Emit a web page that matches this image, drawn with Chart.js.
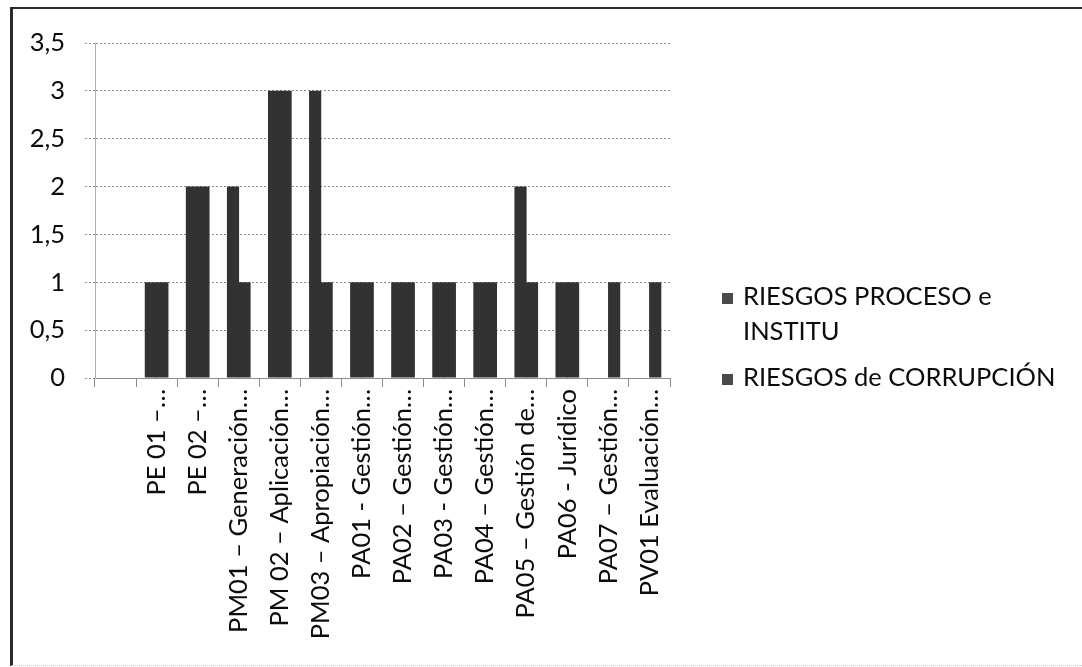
<!DOCTYPE html>
<html>
<head>
<meta charset="utf-8">
<title>Riesgos por proceso</title>
<script src="https://cdn.jsdelivr.net/npm/chart.js@4.4.1/dist/chart.umd.min.js"></script>
<style>
  html, body { margin: 0; padding: 0; background: #ffffff; }
  #wrap { position: relative; width: 1082px; height: 667px; overflow: hidden; }
  #frame {
    position: absolute; left: 10px; top: 7px; right: -4px; bottom: 1px;
    border-left: 3px solid #2b2b2b; border-top: 2px solid #2b2b2b;
    border-bottom: 1px dotted #c4c4c4; pointer-events: none;
  }
  canvas { position: absolute; left: 0; top: 0; }
</style>
</head>
<body>
<div id="wrap">
  <canvas id="chart" width="1082" height="667"></canvas>
  <div id="frame"></div>
</div>
<script>
// Process codes (first slot is an empty category, as in the source sheet)
const categories = [
  '',
  'PE 01 –…',
  'PE 02 –…',
  'PM01 – Generación…',
  'PM 02 – Aplicación…',
  'PM03 – Apropiación…',
  'PA01 - Gestión…',
  'PA02 – Gestión…',
  'PA03 - Gestión…',
  'PA04 – Gestión…',
  'PA05 – Gestión de…',
  'PA06 - Jurídico',
  'PA07 – Gestión…',
  'PV01 Evaluación…'
];

// Number of risks per process
const riesgosProceso    = [null, 1, 2, 2, 3, 3, 1, 1, 1, 1, 2, 1, 0, 0];
const riesgosCorrupcion = [null, 1, 2, 1, 3, 1, 1, 1, 1, 1, 1, 1, 1, 1];

// Series names (as they appear in the legend, line by line)
const seriesProcesoLines    = ['RIESGOS PROCESO e', 'INSTITU'];
const seriesCorrupcionLines = ['RIESGOS de CORRUPCIÓN'];

// Value axis tick labels (decimal comma)
const yTickLabels = ['0', '0,5', '1', '1,5', '2', '2,5', '3', '3,5'];

const FONT_FAMILY = 'Lato, "Open Sans", sans-serif';
const FONT = { family: FONT_FAMILY, size: 25.5 };
const TEXT = '#0c0c0c';
const GRID = '#8d8d8d';
const BAR  = '#323232';
const KEY  = '#4a4a4a';

// Legend drawn to the right of the plot: a square key and wrapped series name
const sideLegend = {
  id: 'sideLegend',
  afterDraw(chart) {
    const c = chart.ctx;
    const area = chart.chartArea;
    const x0 = area.right + 52;          // key square left edge
    const lineH = 35;                    // wrapped-line spacing
    const itemGap = 46;                  // from last line of one item to next item
    let y = 297;                         // first line centre
    c.save();
    c.font = `${FONT.size}px ${FONT_FAMILY}`;
    c.textBaseline = 'middle';
    c.textAlign = 'left';
    chart.data.datasets.forEach((ds, i) => {
      const lines = i === 0 ? seriesProcesoLines : seriesCorrupcionLines;
      c.fillStyle = KEY;
      c.fillRect(x0, y - 4, 11, 11);
      c.fillStyle = TEXT;
      lines.forEach((ln, k) => c.fillText(ln, x0 + 21, y + k * lineH));
      y += (lines.length - 1) * lineH + itemGap;
    });
    c.restore();
  }
};

const ctx = document.getElementById('chart').getContext('2d');
new Chart(ctx, {
  type: 'bar',
  data: {
    labels: categories,
    datasets: [
      {
        label: seriesProcesoLines.join(' '),
        data: riesgosProceso,
        backgroundColor: BAR,
        borderWidth: 0,
        categoryPercentage: 0.56,
        barPercentage: 1.06
      },
      {
        label: seriesCorrupcionLines.join(' '),
        data: riesgosCorrupcion,
        backgroundColor: BAR,
        borderWidth: 0,
        categoryPercentage: 0.56,
        barPercentage: 1.06
      }
    ]
  },
  options: {
    responsive: false,
    animation: false,
    devicePixelRatio: 1,
    layout: { padding: { left: 28, right: 412, top: 43, bottom: 12 } },
    plugins: {
      title: { display: false },
      tooltip: { enabled: false },
      legend: { display: false }
    },
    scales: {
      x: {
        offset: true,
        grid: {
          display: true,
          drawOnChartArea: false,
          drawTicks: true,
          tickLength: 9,
          offset: true,
          color: GRID
        },
        border: { display: true, color: GRID, width: 1 },
        ticks: {
          font: FONT,
          color: TEXT,
          autoSkip: false,
          minRotation: 90,
          maxRotation: 90,
          padding: 2
        },
        afterFit(scale) { scale.height = 277; }
      },
      y: {
        min: 0,
        max: 3.5,
        grid: {
          color: GRID,
          lineWidth: 1,
          tickLength: 10,
          tickBorderDash: [2, 2]
        },
        border: { display: true, color: '#b0b0b0', width: 1, dash: [2, 2] },
        ticks: {
          stepSize: 0.5,
          font: FONT,
          color: TEXT,
          padding: 20,
          callback: (v, i) => yTickLabels[i]
        },
        afterFit(scale) { scale.width = 67; }
      }
    }
  },
  plugins: [sideLegend]
});
</script>
</body>
</html>
